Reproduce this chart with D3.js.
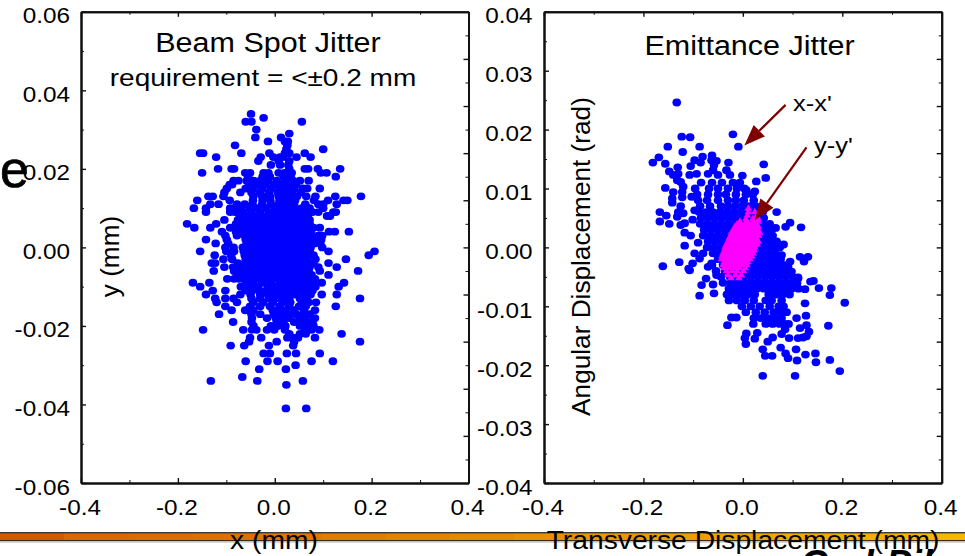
<!DOCTYPE html>
<html><head><meta charset="utf-8">
<style>html,body{margin:0;padding:0;background:#fff;overflow:hidden}svg{display:block}text{font-family:"Liberation Sans",Arial,sans-serif;fill:#000}</style>
<script src="https://cdn.jsdelivr.net/npm/d3@7/dist/d3.min.js"></script></head><body>
<svg id="c" width="965" height="556"></svg>
<script>
// Beam spot panel: y (thousandths of mm) and the x values (thousandths of mm) read along each row
const spotRowY=[34,33,32,30,29,28,27,26,25,24,23,22,21,20,19,18,17,16,15,14,13,12,11,10,9,8,7,6,5,4,3,2,1,0,-1,-2,-3,-4,-5,-6,-7,-8,-9,-10,-11,-12,-13,-14,-15,-16,-17,-18,-19,-20,-21,-22,-23,-24,-25,-27,-29,-30,-31,-33,-34,-35,-41];
const spotRowX=[[-49],[-23],[-60,-48,56],[-38],[30],[13,-40],[-14,21,27],[-82,26],[100,24],[-154,-148,-69,-11,21,30,62],[-121,-29,-3,11,17,45,74],[-34,8,30],[-8,11,28],[-117,-89,-84,30,62,69,89,135],[-150,-61,-51,-23,-13,8,20,35,95,107],[-55,-25,-10,18,33,126],[-85,-75,-58,-44,-30,-14,4,22,38,52,70],[-93,-88,-52,-36,-20,-2,14,30,44],[-99,-60,-44,-26,-8,10,24,40,58,67,93],[-104,-71,-48,-30,-12,6,20,36,54],[-137,-128,-106,-44,-26,-10,8,22,36,46,65,84,125,178],[-160,-93,-45,-25,-9,10,26,42,81,110,142,150],[-133,-116,-78,-62,-46,-26,-8,8,24,40,63,90,100,128],[-167,-142,-92,-84,-70,-52,-36,-18,0,14,28,42,56,72,100],[-142,-92,-82,-66,-48,-30,-12,4,18,32,46,60,78,90,121,126],[-72,-58,-44,-30,-16,-2,12,26,40,54,68,108,114],[-104,-76,-62,-48,-34,-20,-6,8,22,36,50,64,72],[-181,-121,-80,-66,-52,-38,-24,-10,4,18,32,46,60,72],[-166,-133,-92,-82,-68,-54,-40,-26,-12,2,16,30,44,58,70,80,93],[-109,-80,-66,-52,-38,-24,-10,4,18,32,46,60,74,112,124,153],[-102,-78,-62,-48,-34,-20,-6,8,22,36,50,64,78,90,98],[-142,-99,-60,-46,-32,-18,-4,10,24,38,52,66,80,96],[-122,-96,-58,-44,-30,-16,-2,12,26,40,54,68,82,94],[-102,-85,-66,-52,-38,-24,-10,4,18,32,46,60,74,98],[-154,-100,-84,-64,-50,-36,-22,-8,6,20,34,48,62,72,111,206],[-124,-90,-62,-48,-34,-20,-6,8,22,36,50,64,80,194],[-106,-88,-60,-46,-32,-18,-4,10,24,38,52,66,84,147],[-130,-123,-76,-60,-46,-32,-18,-4,10,24,38,52,66,80,111],[-104,-86,-70,-56,-42,-28,-14,0,14,28,42,56,72,90,128],[-126,-84,-68,-54,-40,-26,-12,2,16,30,44,58,70,93,172],[-78,-64,-50,-36,-22,-8,6,20,34,48,62,76,111],[-98,-84,-74,-60,-46,-32,-18,-4,10,24,38,52,66,83],[-169,-135,-60,-44,-26,-8,10,24,38,52,66,80,97,143],[-154,-70,-52,-34,-14,0,14,28,42,56,70,84,132],[-128,-102,-60,-46,-32,-18,-4,10,24,38,52,66,78],[-142,-71,-50,-30,-14,0,14,28,42,60,74,97,128],[-123,-102,-85,-48,-30,-12,2,16,30,52,66,176],[-120,-78,-44,-24,-4,16,32,56,70,85],[-102,-51,-30,-10,10,30,50,64,126],[-89,-61,-44,-4,10,21,40,60,83],[-115,-48,-30,-2,12,30,44,59,72],[-47,-16,2,16,30,52,62,83],[-86,-48,4,18,40,56,70,78],[-44,-8,6,22,52,68,80],[-148,-65,-47,-38,-16,-1,21,62,76,92],[30,52,64,138],[-51,-28,26,38,48,83],[-53,4,40,176],[-91,-63,-12,38],[-23,-10,25,44,93],[-60,-15,6,76,120],[43],[-32,23],[-67],[-132,-36,58],[24],[23,65]];
// Emittance panel x-x': outlying points read one by one, [x, x'] in thousandths
const emitOutliers=[[-133,24.6],[-123,18.8],[-106,18.7],[-20,19.2],[-9,17.1],[-87,17.1],[-151,17.1],[-121,16.2],[-169,15.3],[-181,14.4],[-156,14.2],[-62,15.6],[-81,15.4],[-97,14.8],[-85,14.4],[-63,14.8],[-105,13.8],[-53,14.7],[-58,14],[-60,13.1],[-29,14.4],[42,14.1],[46,11.8],[27,11.2],[-1,12.2],[24,9.5],[-131,13.6],[-148,12.9],[-130,12.5],[-140,12.3],[-132,11.4],[-125,11.1],[-120,10.3],[-156,10.1],[-140,9.4],[-122,9.4],[-122,8.5],[-142,8.3],[-142,7.6],[-125,7],[-167,6],[-130,6],[-120,5.8],[-154,5.4],[-132,5.2],[-167,4.4],[-148,4],[-125,3.8],[-117,4.1],[-101,4.7],[-117,2.5],[-105,2],[-117,.3],[-90,.8],[-97,-1],[-80,-1],[-87,-1.9],[-128,-2.5],[-101,-2.7],[-161,-3.2],[-109,-3.6],[-63,-2.7],[-70,-3.3],[-107,12.3],[-93,12.5],[-70,12.5],[-50,12.3],[-33,13.1],[-26,12.3],[-9,10.8],[7,9.7],[-103,8.6],[-97,6.3],[68,6],[95,4.2],[86,3.5],[66,3.3],[117,3.4],[115,-1.6],[131,-1.6],[123,-2.4],[142,-5.7],[41,7],[78,.4],[82,.5],[78,-1.3],[95,-2.4],[91,-3.3],[98,-4.1],[111,-5.1],[74,-3.3],[-107,-3.9],[-83,-6.4],[-87,-8.2],[-60,-6.3],[-58,-7.8],[-74,-5.3],[-53,-4.7],[95,-4.4],[111,-5.3],[109,-6.1],[125,-7.1],[136,-5.8],[153,-6.9],[178,-6.9],[175,-8.1],[205,-9.4],[125,-9.5],[108,-12],[127,-11.6],[92,-13],[172,-13.3],[128,-13.2],[115,-13.7],[133,-14.3],[128,-15.1],[111,-15.4],[121,-15.3],[93,-15.4],[78,-14.7],[85,-13.9],[60,-15.3],[50,-16],[24,-15.5],[29,-14.5],[7,-14.6],[4,-15.4],[6,-16.4],[-31,-13.2],[-23,-11.9],[-13,-11.9],[21,-13],[40,-17.3],[76,-17],[107,-17.3],[86,-18],[91,-18.8],[109,-19.2],[126,-18.2],[146,-18],[147,-19.5],[175,-19.1],[195,-21],[40,-21.8],[105,-21.8],[45,-18.4],[59,-18.4]];
// Emittance panel x-x': dense core, read along rows
const emitRowY=[11,10,9,8,7,6,5,4,3,2,1,0,-1,-2,-3,-4,-5,-6,-7,-8,-9,-10,-11,-12,-13];
const emitRowX=[[-84,-62,-42,-20,-6],[-96,-68,-50,-30,-12,3],[-92,-70,-50,-34,-14,6,20],[-90,-72,-50,-30,-14,2,22],[-86,-66,-44,-30,-16,-2,12,26],[-88,-74,-60,-46,-32,-18,-4,10,24,40],[-84,-70,-56,-42,-28,-14,0,14,28,42],[-86,-72,-58,-44,-30,-16,-2,12,26,40,54],[-78,-64,-50,-36,-22,-8,6,20,34,48,58],[-80,-66,-52,-38,-24,-10,4,18,32,46,60],[-70,-56,-42,-28,-14,0,14,28,42,56,68],[-72,-58,-44,-30,-16,-2,12,26,40,54,66,74],[-60,-46,-32,-18,-4,10,24,38,52,66],[-50,-36,-22,-8,6,20,34,48,62,76],[-62,-40,-26,-12,2,16,30,44,58,72,84],[-54,-36,-20,-6,8,22,36,50,64,78,90],[-44,-26,-12,2,16,30,44,58,72,86,100],[-40,-24,-10,4,18,32,46,60,74,88,102],[-28,-14,0,14,28,42,56,70,84,98,112],[-32,-18,-4,10,24,52,66,80,94],[-28,-12,4,22,46,58,78],[-2,16,34,54,72,82],[6,26,44,62,76,88],[22,36,50,64,78],[46,60,74,84]];
// Emittance panel y-y': magenta cloud, read along rows
const yyRowY=[6.6,6,5.4,4.8,4.4,3.9,3.5,3,2.5,2,1.5,1,.5,0,-.5,-1,-1.5,-2,-2.5,-3,-3.5,-4,-4.7,-5.2];
const yyRowX=[[11],[11,24],[9,28],[6,20,31],[-6,7,21,31],[-12,-4,4,12,20,28],[-16,-8,0,8,16,24,31],[-18,-10,-2,6,14,22,30],[-23,-15,-7,1,9,17,25,34],[-24,-16,-8,0,8,16,24,32],[-28,-20,-12,-4,4,12,20,28],[-30,-22,-14,-6,2,10,18,26,31],[-33,-25,-17,-9,-1,7,15,23,29],[-36,-28,-20,-12,-4,4,12,20,24],[-37,-29,-21,-13,-5,3,11,19,23],[-40,-32,-24,-16,-8,0,8,16,21],[-42,-34,-26,-18,-10,-2,6,14,18],[-43,-35,-27,-19,-11,-3,5,14],[-38,-30,-22,-14,-6,2,10],[-40,-32,-24,-16,-8,0,8],[-38,-27,-17,-7,5],[-33,-22,-12,1],[-30,-15,-3],[-24,-8]];
// Ticks
const xMajor=[-0.4,-0.2,0,0.2,0.4];
const xMinor=[-0.3,-0.1,0.1,0.3];
const spotYMajor=[0.06,0.04,0.02,0,-0.02,-0.04,-0.06];
const spotYMinor=[0.05,0.03,0.01,-0.01,-0.03,-0.05];
const spotRightMajor=[0.048,0.036,0.024,0.012,0,-0.012,-0.024,-0.036,-0.048];
const spotRightMinor=[0.054,0.042,0.03,0.018,0.006,-0.006,-0.018,-0.03,-0.042,-0.054];
const emitYMajor=[0.04,0.03,0.02,0.01,0,-0.01,-0.02,-0.03,-0.04];
const emitYMinor=[0.035,0.025,0.015,0.005,-0.005,-0.015,-0.025,-0.035];
const emitRightMajor=[0.032,0.024,0.016,0.008,0,-0.008,-0.016,-0.024,-0.032];
const emitRightMinor=[0.036,0.028,0.02,0.012,0.004,-0.004,-0.012,-0.02,-0.028,-0.036];
// Annotation arrows [tailX, tailY, tipX, tipY]
const arrowXX=[0.086,0.0242,0.003,0.0173];
const arrowYY=[0.128,0.0170,0.024,0.0046];
const bandColors=["#d25a00","#d96800","#da6c00","#dc7000","#de7600","#e07e00","#e28400","#e48a00","#e69200","#e89800","#ea9e00","#eca400","#eeaa00","#f0b000","#f4b800"];

const svg=d3.select("#c");
const SX=1.13;
function label(x,y,t,size,anchor,sx){
  return svg.append("text").attr("transform",`translate(${x},${y}) scale(${sx===undefined?SX:sx},1)`)
    .attr("text-anchor",anchor||"start").attr("font-size",size).text(t);
}
const bandX=d3.scaleBand().domain(d3.range(bandColors.length)).range([0,965]);
svg.append("g").selectAll("rect").data(bandColors).join("rect")
  .attr("x",(d,i)=>bandX(i)).attr("width",bandX.bandwidth()+.5).attr("y",532.5).attr("height",8).attr("fill",d=>d);
svg.append("rect").attr("x",0).attr("y",532).attr("width",965).attr("height",1.4).attr("fill","#3a3a3a");
svg.append("rect").attr("x",0).attr("y",540).attr("width",965).attr("height",1.2).attr("fill","#3a2a10");
svg.append("rect").attr("x",0).attr("y",541.2).attr("width",965).attr("height",1.4).attr("fill","#bdbdbd");

function panel(o){
  const x=d3.scaleLinear().domain([-0.4,0.4]).range(o.xr);
  const y=d3.scaleLinear().domain(o.yd).range([483,11.8]);
  const g=svg.append("g");
  const fmtX=d=>d3.format(".1f")(d).replace("−","-");
  const fmtY=d=>d3.format(".2f")(d).replace("−","-");
  const ax=(gen,tr,major)=>{
    const a=g.append("g").attr("transform",tr).call(gen);
    a.selectAll("path.domain").attr("stroke","#111").attr("stroke-width",2);
    a.selectAll("line").attr("stroke","#111").attr("stroke-width",major?1.4:1);
    a.attr("font-family",null).attr("font-size",null);
    return a;
  };
  const b=`translate(0,483)`,t=`translate(0,11.8)`,l=`translate(${o.xr[0]},0)`,r=`translate(${o.xr[1]},0)`;
  ax(d3.axisBottom(x).tickValues(xMinor).tickSize(-3).tickFormat("").tickSizeOuter(0),b,false);
  ax(d3.axisTop(x).tickValues(xMinor).tickSize(-3).tickFormat("").tickSizeOuter(0),t,false);
  ax(d3.axisTop(x).tickValues(xMajor).tickSize(-5).tickFormat("").tickSizeOuter(0),t,true);
  ax(d3.axisLeft(y).tickValues(o.yMinor).tickSize(-3).tickFormat("").tickSizeOuter(0),l,false);
  ax(d3.axisRight(y).tickValues(o.rMajor).tickSize(-5).tickFormat("").tickSizeOuter(0),r,true);
  ax(d3.axisRight(y).tickValues(o.rMinor).tickSize(-3).tickFormat("").tickSizeOuter(0),r,false);
  const ab=ax(d3.axisBottom(x).tickValues(xMajor).tickSize(-5).tickFormat(fmtX).tickSizeOuter(0),b,true);
  ab.selectAll("text").attr("y",null).attr("dy",null).attr("text-anchor","middle").attr("font-size",21.5)
    .attr("transform",`translate(-1.5,32) scale(${SX},1)`);
  const al=ax(d3.axisLeft(y).tickValues(o.yMajor).tickSize(-5).tickFormat(fmtY).tickSizeOuter(0),l,true);
  al.selectAll("text").attr("x",null).attr("dy",null).attr("text-anchor","end").attr("font-size",21.5)
    .attr("transform",`translate(${o.labelDx},11) scale(${SX},1)`);
  return {x,y,g};
}
const P1=panel({xr:[81,468.5],yd:[-0.06,0.06],yMajor:spotYMajor,yMinor:spotYMinor,rMajor:spotRightMajor,rMinor:spotRightMinor,labelDx:-11});
const P2=panel({xr:[544,941.7],yd:[-0.04,0.04],yMajor:emitYMajor,yMinor:emitYMinor,rMajor:emitRightMajor,rMinor:emitRightMinor,labelDx:-11.5});

const spotPts=spotRowY.flatMap((v,i)=>spotRowX[i].map(u=>[u/1000,v/1000]));
const emitPts=emitOutliers.map(d=>[d[0]/1000,d[1]/1000]).concat(emitRowY.flatMap((v,i)=>emitRowX[i].map(u=>[u/1000,v/1000])));
const yyPts=yyRowY.flatMap((v,i)=>yyRowX[i].map(u=>[u/1000,v/1000]));
function dots(P,data){P.g.append("g").selectAll("ellipse").data(data).join("ellipse")
  .attr("cx",d=>P.x(d[0])).attr("cy",d=>P.y(d[1])).attr("rx",4.3).attr("ry",3.9).attr("fill","#0000ff");}
dots(P1,spotPts);dots(P2,emitPts);
const tri=d3.symbol().type(d3.symbolTriangle).size(24);
P2.g.append("g").selectAll("path").data(yyPts).join("path").attr("d",tri)
  .attr("transform",d=>`translate(${P2.x(d[0])},${P2.y(d[1])})`).attr("fill","#ff00ff");

function arrow(P,a){
  const [x0,y0,x1,y1]=[P.x(a[0]),P.y(a[1]),P.x(a[2]),P.y(a[3])];
  const len=Math.hypot(x1-x0,y1-y0),ux=(x1-x0)/len,uy=(y1-y0)/len,h=21,w=8;
  const bx=x1-ux*h,by=y1-uy*h;
  P.g.append("line").attr("x1",x0).attr("y1",y0).attr("x2",bx).attr("y2",by).attr("stroke","#800000").attr("stroke-width",2.2);
  P.g.append("path").attr("fill","#800000").attr("d",d3.line()([[x1,y1],[bx-uy*w,by+ux*w],[bx+uy*w,by-ux*w]])+"Z");
}
arrow(P2,arrowXX);arrow(P2,arrowYY);

label(268,52,"Beam Spot Jitter",27,"middle");
label(263,86,"requirement = <±0.2 mm",24.8,"middle");
label(749.5,55,"Emittance Jitter",27,"middle");
label(793,111,"x-x'",22.5,"start");
label(814,153,"y-y'",22.5,"start");
svg.append("text").attr("transform","translate(118.5,256.5) rotate(-90)").attr("text-anchor","middle").attr("font-size",26.2).text("y (mm)");
svg.append("text").attr("transform","translate(590,256.5) rotate(-90)").attr("text-anchor","middle").attr("font-size",26.2).text("Angular Displacement (rad)");
label(274,549,"x (mm)",25,"middle",1.13);
label(743,549,"Transverse Displacement (mm)",25,"middle",1.13);
label(0,187,"e",52,"start",1.0).attr("stroke","#000").attr("stroke-width",.7);
svg.append("text").attr("x",800).attr("y",577).attr("font-size",38).attr("font-weight","bold").attr("font-style","italic").text("Carl");
svg.append("text").attr("x",886).attr("y",577).attr("font-size",38).attr("font-weight","bold").attr("font-style","italic").text("Pil");
</script></body></html>
